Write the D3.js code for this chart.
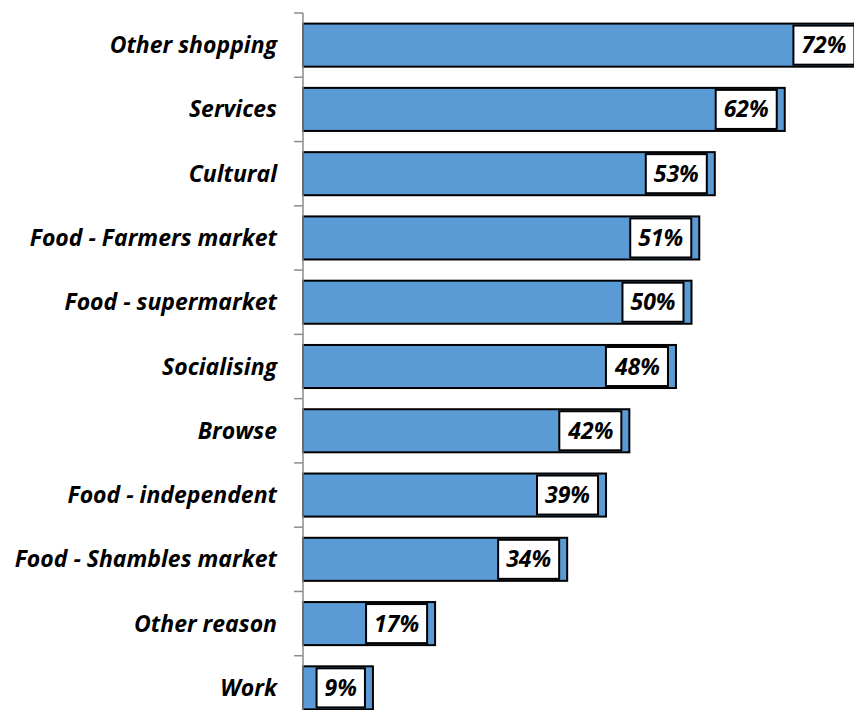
<!DOCTYPE html>
<html>
<head>
<meta charset="utf-8">
<script src="https://cdn.jsdelivr.net/npm/d3@7"></script>
<style>
  body { margin: 0; background: #fff; }
  text { font-family: "Open Sans", Lato, sans-serif; font-weight: bold; font-style: italic; }
</style>
</head>
<body>
<svg class="bar-chart"></svg>
<script>
let categories = ["Other shopping", "Services", "Cultural", "Food - Farmers market",
    "Food - supermarket", "Socialising", "Browse", "Food - independent",
    "Food - Shambles market", "Other reason", "Work"];
let values = [72, 62, 53, 51, 50, 48, 42, 39, 34, 17, 9];

let width = 854, height = 710;
let svg = d3.select('.bar-chart')
    .attr("width", width)
    .attr("height", height);

let x = d3.scaleLinear().domain([0, 100]).range([303, 1080]);
let y = d3.scaleBand().domain(categories).range([13, 720]).paddingInner(0.33).paddingOuter(0.165);

let rows = categories.map((c, i) => ({cat: c, val: values[i]}));

// bars
svg.selectAll("rect.bar")
    .data(rows)
    .enter()
    .append("rect")
    .attr("class", "bar")
    .attr("x", x(0))
    .attr("y", d => y(d.cat))
    .attr("width", d => x(d.val) - x(0))
    .attr("height", y.bandwidth())
    .attr("fill", "#5b9bd5")
    .attr("stroke", "#000")
    .attr("stroke-width", 2);

// category labels
svg.selectAll("text.cat")
    .data(rows)
    .enter()
    .append("text")
    .attr("class", "cat")
    .attr("x", 277)
    .attr("y", d => y(d.cat) + y.bandwidth() / 2)
    .attr("dy", "0.35em")
    .attr("text-anchor", "end")
    .attr("font-size", 23)
    .text(d => d.cat);

// value labels in boxes
let lab = svg.selectAll("g.lab")
    .data(rows)
    .enter()
    .append("g")
    .attr("class", "lab");

lab.append("text")
    .attr("x", d => x(d.val) - 16)
    .attr("y", d => y(d.cat) + y.bandwidth() / 2)
    .attr("dy", "0.35em")
    .attr("text-anchor", "end")
    .attr("font-size", 23)
    .text(d => d.val + "%");

lab.each(function() {
    let g = d3.select(this);
    let bb = g.select("text").node().getBBox();
    let d = g.datum();
    g.insert("rect", "text")
        .attr("x", bb.x - 8)
        .attr("y", y(d.cat) + 2)
        .attr("width", bb.width + 16)
        .attr("height", y.bandwidth() - 4)
        .attr("fill", "#fff")
        .attr("stroke", "#000")
        .attr("stroke-width", 2);
});

// axis
let ticks = categories.map(c => y(c) - y.step() * y.paddingInner() / 2);
ticks.push(y.range()[1]);
svg.append("line")
    .attr("x1", 303).attr("x2", 303)
    .attr("y1", 13).attr("y2", 720)
    .attr("stroke", "#8c8c8c")
    .attr("stroke-width", 1.5);
svg.selectAll("line.tick")
    .data(ticks)
    .enter()
    .append("line")
    .attr("class", "tick")
    .attr("x1", 294).attr("x2", 303)
    .attr("y1", d => d).attr("y2", d => d)
    .attr("stroke", "#8c8c8c")
    .attr("stroke-width", 1.5);
</script>
</body>
</html>
